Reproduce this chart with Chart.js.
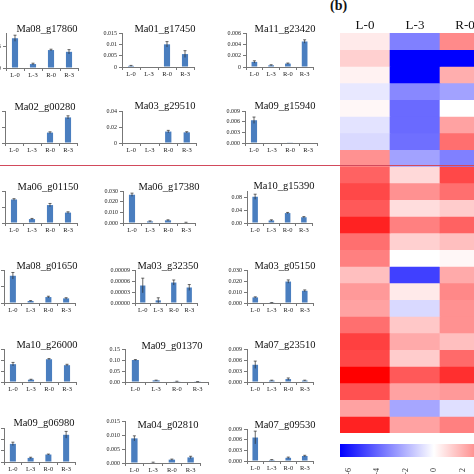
<!DOCTYPE html>
<html>
<head>
<meta charset="utf-8">
<script src="https://cdn.jsdelivr.net/npm/chart.js@4.4.1/dist/chart.umd.min.js"></script>
<style>
  html, body { margin: 0; padding: 0; background: #fff; }
  body { width: 474px; height: 474px; overflow: hidden; position: relative; font-family: 'Liberation Serif', serif; }
  canvas { position: absolute; }
  #tag { position: absolute; left: 330px; top: -2px; font-weight: bold; font-size: 14px; color: #111; }
  #divider { position: absolute; left: 0; top: 165px; width: 474px; height: 1px; background: #d24a5c; z-index: 5; }
</style>
</head>
<body>
<div id="tag">(b)</div>
<div id="divider"></div>
<script>
// bar panels (a)
const groups = ['L-0', 'L-3', 'R-0', 'R-3'];
const genes = [
  'Ma08_g17860', 'Ma01_g17450', 'Ma11_g23420',
  'Ma02_g00280', 'Ma03_g29510', 'Ma09_g15940',
  'Ma06_g01150', 'Ma06_g17380', 'Ma10_g15390',
  'Ma08_g01650', 'Ma03_g32350', 'Ma03_g05150',
  'Ma10_g26000', 'Ma09_g01370', 'Ma07_g23510',
  'Ma09_g06980', 'Ma04_g02810', 'Ma07_g09530'
];
const means = [
  [0.0068, 0.0009, 0.0041, 0.0037], [0.0005, 0, 0.0100, 0.0057], [0.0009, 0.0003, 0.0006, 0.0045],
  [0, 0, 0.0013, 0.0032], [0, 0, 0.0143, 0.0133], [0.0064, 0, 0.0001, 0],
  [0.0294, 0.0049, 0.0224, 0.0130], [0.0265, 0.0015, 0.0025, 0.0005], [0.082, 0.008, 0.031, 0.018],
  [0.033, 0.0024, 0.0072, 0.0056], [0.0000477, 0.0000072, 0.0000558, 0.0000423], [0.0051, 0.0003, 0.0195, 0.0111],
  [0.081, 0.0105, 0.1035, 0.0765], [0.100, 0.0075, 0.003, 0.0015], [0.0047, 0.0004, 0.0008, 0.0004],
  [0.016, 0.0036, 0.0066, 0.024], [0.0088, 0.0002, 0.0012, 0.0020], [0.0066, 0.0003, 0.0009, 0.0014]
];
const errs = [
  [0.0007, 0.0002, 0.0002, 0.0005], [0.0002, 0, 0.0012, 0.0015], [0.0002, 0.0001, 0.0001, 0.0003],
  [0, 0, 0.0001, 0.0002], [0, 0, 0.0015, 0.0008], [0.0009, 0, 0, 0],
  [0.0010, 0.0008, 0.0020, 0.0010], [0.0015, 0.0005, 0.0005, 0.0002], [0.008, 0.002, 0.002, 0.002],
  [0.004, 0.0005, 0.001, 0.0008], [0.00002, 0.000007, 0.000007, 0.000008], [0.0005, 0.0001, 0.0015, 0.0008],
  [0.008, 0.002, 0.003, 0.004], [0.002, 0.001, 0.0005, 0.0003], [0.001, 0.0001, 0.0003, 0.0001],
  [0.0015, 0.0006, 0.0004, 0.003], [0.0009, 0.0001, 0.0002, 0.0004], [0.0018, 0.0001, 0.0002, 0.0002]
];
const yMax  = [0.008, 0.015, 0.006, 0.004, 0.04, 0.009, 0.04, 0.03, 0.10, 0.04, 0.00009, 0.03, 0.15, 0.15, 0.009, 0.03, 0.015, 0.009];
const yStep = [0.005, 0.005, 0.002, 0.001, 0.02, 0.003, 0.01, 0.01, 0.02, 0.01, 0.00003, 0.01, 0.05, 0.05, 0.003, 0.01, 0.005, 0.003];
const yDec  = [null, null, null, null, null, 3, null, 3, 2, null, 5, 3, null, 2, 3, null, 3, 3];

// heatmap (b)
const heatCols = ['L-0', 'L-3', 'R-0'];
const heatL0 = [0.5, 1.1, 0.3, -0.55, 0.2, -0.65, -0.9, 2.6, 3.7, 4.3, 3.9, 5.2, 3.4, 3.0, 1.5, 2.4, 2.2, 3.4, 4.5, 4.3, 6.0, 4.1, 2.2, 5.2];
const heatL3 = [-3.0, -6.0, -6.0, -2.8, -3.5, -3.5, -3.4, -2.2, 0.9, 2.6, 0.8, 3.0, 1.1, 0, -4.5, 0.5, -0.9, 1.3, 2.0, 1.2, 3.9, 2.2, -2.1, 2.2];
const heatR0 = [2.75, -6.0, 1.9, -2.2, 0, 2.2, 3.4, -3.0, 4.3, 3.4, 1.2, 3.7, 1.5, 0.2, 2.0, 2.8, 2.6, 2.6, 1.5, 3.5, 4.9, 2.4, -0.75, 3.0];
const scaleMin = -6.6, scaleMax = 6.6;

// panel placement: [axisX, plotRight, topY, baseY, titleX, titleY]
const boxes = [
  [6, 78, 33, 68, 47, 29], [122, 194, 33, 67, 165, 29], [246, 313, 33, 67, 285, 29],
  [5, 77, 111, 143, 45, 107], [122, 196, 111, 143, 165, 106], [245, 317, 111, 143, 285, 106],
  [5, 77, 191, 223, 48, 187], [123, 195, 191, 223, 169, 187], [247, 312, 191, 223, 284, 186],
  [4, 75, 270, 303, 47, 266], [135, 197, 270, 303, 168, 266], [247, 313, 270, 303, 285, 266],
  [4, 76, 349, 382, 47, 345], [125, 208, 349, 382, 172, 346], [247, 313, 349, 382, 285, 345],
  [4, 75, 428, 462, 44, 423], [125, 200, 421, 463, 168, 425], [247, 313, 429, 461, 285, 425]
];

Chart.defaults.font.family = "'Liberation Serif', serif";
Chart.defaults.color = '#222';

const fmt = (v, dec) => dec == null ? String(+v.toPrecision(6)) : v.toFixed(dec);

// error bars + panel title
const extras = {
  id: 'extras',
  afterDatasetsDraw(chart, args, opts) {
    const { ctx } = chart;
    const meta = chart.getDatasetMeta(0);
    const y = chart.scales.y;
    const vals = chart.data.datasets[0].data;
    ctx.save();
    ctx.strokeStyle = '#2a2a2a';
    ctx.lineWidth = 0.7;
    opts.errs.forEach((e, i) => {
      if (!e) return;
      const x = meta.data[i].x;
      const y1 = y.getPixelForValue(vals[i] + e);
      const y0 = y.getPixelForValue(Math.max(vals[i] - e, 0));
      ctx.beginPath();
      ctx.moveTo(x, y0); ctx.lineTo(x, y1);
      ctx.moveTo(x - 1.5, y1); ctx.lineTo(x + 1.5, y1);
      ctx.stroke();
    });
    ctx.fillStyle = '#111';
    ctx.font = "10.5px 'Liberation Serif'";
    ctx.textAlign = 'center';
    ctx.textBaseline = 'middle';
    ctx.fillText(opts.title, opts.tx, opts.ty);
    ctx.restore();
  }
};

genes.forEach((g, i) => {
  const [ax, right, top, base, tx, ty] = boxes[i];
  const left = ax - 30, ctop = top - 24;
  const edge = Math.max(right + 3, tx + 36);
  const cv = document.createElement('canvas');
  cv.width = edge - left;
  cv.height = base - ctop + 14;
  cv.style.left = left + 'px';
  cv.style.top = ctop + 'px';
  document.body.appendChild(cv);

  new Chart(cv, {
    type: 'bar',
    data: {
      labels: groups,
      datasets: [{ data: means[i], backgroundColor: '#4a7ebf', barPercentage: 0.34, categoryPercentage: 1 }]
    },
    options: {
      responsive: false,
      animation: false,
      layout: { padding: { top: 24, right: edge - right, left: 0, bottom: 0 } },
      plugins: {
        legend: { display: false },
        tooltip: { enabled: false },
        extras: { errs: errs[i], title: g, tx: tx - left, ty: ty - ctop }
      },
      scales: {
        x: {
          grid: { drawOnChartArea: false, tickLength: 3, color: '#777' },
          border: { color: '#777' },
          ticks: { font: { size: 6.5 }, padding: 0, color: '#222', autoSkip: false, minRotation: 0, maxRotation: 0 },
          afterFit: s => { s.height = 14; }
        },
        y: {
          min: 0, max: yMax[i],
          grid: { drawOnChartArea: false, tickLength: 3, color: '#777' },
          border: { color: '#777' },
          ticks: { stepSize: yStep[i], includeBounds: false, font: { size: 6 }, padding: 2, color: '#222',
                   callback: v => fmt(v, yDec[i]) },
          afterFit: s => { s.width = 30; }
        }
      }
    },
    plugins: [extras]
  });
});

// heatmap
const heatColor = v => {
  const t = Math.min(Math.abs(v) / 6, 1);
  const c = Math.round(255 * (1 - t));
  return v >= 0 ? `rgb(255,${c},${c})` : `rgb(${c},${c},255)`;
};
const heatRows = heatL0.map((v, r) => [v, heatL3[r], heatR0[r]]);

const hcv = document.createElement('canvas');
hcv.width = 150; hcv.height = 433;
hcv.style.left = '340px'; hcv.style.top = '0px';
document.body.appendChild(hcv);
new Chart(hcv, {
  type: 'bar',
  data: {
    labels: heatCols,
    datasets: heatRows.map(row => ({
      data: row.map(() => 1),
      backgroundColor: row.map(heatColor),
      borderWidth: 0, barPercentage: 1, categoryPercentage: 1
    }))
  },
  options: {
    responsive: false,
    animation: false,
    plugins: { legend: { display: false }, tooltip: { enabled: false } },
    scales: {
      x: {
        position: 'top', stacked: true,
        grid: { display: false }, border: { display: false },
        ticks: { font: { size: 13 }, color: '#111', padding: -8 },
        afterFit: s => { s.height = 33; }
      },
      y: { stacked: true, display: false, reverse: true, min: 0, max: heatRows.length }
    }
  }
});

// colour bar
const ccv = document.createElement('canvas');
ccv.width = 192; ccv.height = 34;
ccv.style.left = '340px'; ccv.style.top = '440px';
document.body.appendChild(ccv);
new Chart(ccv, {
  type: 'bar',
  data: {
    labels: [''],
    datasets: [{
      data: [[scaleMin, scaleMax]],
      borderWidth: 0, barPercentage: 1, categoryPercentage: 1,
      backgroundColor: c => {
        const area = c.chart.chartArea;
        if (!area) return '#fff';
        const grad = c.chart.ctx.createLinearGradient(area.left, 0, area.right, 0);
        grad.addColorStop(0, '#0000ff');
        grad.addColorStop(0.5, '#ffffff');
        grad.addColorStop(1, '#ff0000');
        return grad;
      }
    }]
  },
  options: {
    indexAxis: 'y',
    responsive: false,
    animation: false,
    layout: { padding: { top: 4 } },
    plugins: { legend: { display: false }, tooltip: { enabled: false } },
    scales: {
      y: { display: false },
      x: {
        min: scaleMin, max: scaleMax,
        grid: { display: false }, border: { display: false },
        ticks: { stepSize: 2, includeBounds: false, minRotation: 90, maxRotation: 90, font: { size: 8 }, padding: 3, color: '#333' },
        afterFit: s => { s.height = 17; }
      }
    }
  }
});
</script>
</body>
</html>
